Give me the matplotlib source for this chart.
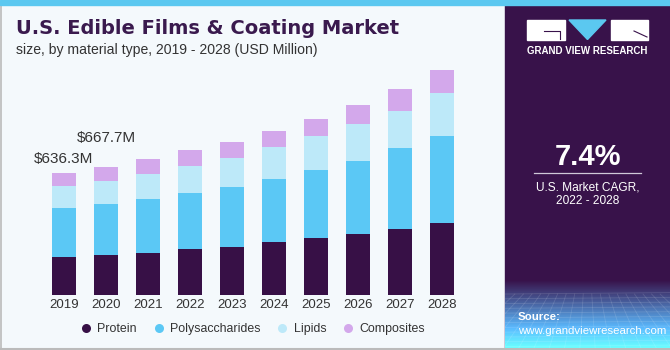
import numpy as np
import matplotlib.pyplot as plt
from matplotlib.patches import Rectangle, Polygon
from matplotlib.lines import Line2D

# data (USD Million)
years = ["2019", "2020", "2021", "2022", "2023", "2024", "2025", "2026", "2027", "2028"]
protein = [197.7, 205.5, 219.5, 237.2, 250.7, 275.1, 295.8, 318.1, 342.5, 375.2]
polysaccharides = [254.9, 265.5, 281.8, 294.2, 311.4, 328.5, 352.9, 380.4, 420.4, 450.0]
lipids = [116.0, 122.7, 128.2, 138.6, 150.5, 164.5, 176.5, 192.0, 193.6, 224.7]
composites = [67.6, 74.0, 77.9, 83.0, 83.0, 84.6, 91.9, 95.0, 112.6, 121.4]
series_names = ["Protein", "Polysaccharides", "Lipids", "Composites"]
value_labels = {0: "$636.3M", 1: "$667.7M"}

colors = ["#371046", "#5bc8f5", "#bde9f9", "#d3a8eb"]
bg = "#f4f9fc"
panel = "#38124a"

plt.rcParams["font.family"] = ["Liberation Sans", "DejaVu Sans"]

W, H = 670, 350
fig = plt.figure(figsize=(6.7, 3.5), dpi=100)
fig.patch.set_facecolor(bg)


def fx(px):
    return px / W


def fy(py):
    return 1 - py / H


# axes placed so bars land at the right pixels
ax = fig.add_axes([fx(38.8), fy(295), fx(428.4), (295 - 60) / H])
ax.set_facecolor(bg)
x = np.arange(len(years))
bottom = np.zeros(len(years))
for vals, c in zip([protein, polysaccharides, lipids, composites], colors):
    ax.bar(x, vals, bottom=bottom, width=0.57, color=c, edgecolor="none")
    bottom += np.array(vals)
ax.set_xlim(-0.6, 9.6)
ax.set_ylim(0, 1222)
ax.set_xticks(x)
ax.set_xticklabels(years, fontsize=9.5, color="#333333")
ax.tick_params(axis="x", length=0, pad=3)
ax.set_yticks([])
for s in ax.spines.values():
    s.set_visible(False)

totals = bottom
ax.text(0, totals[0] + 70, value_labels[0], ha="center", va="center", fontsize=11, color="#333333")
ax.text(1, totals[1] + 150, value_labels[1], ha="center", va="center", fontsize=11, color="#333333")

# legend
handles = [Line2D([], [], marker="o", linestyle="none", markersize=6.5,
                  markerfacecolor=c, markeredgecolor="none") for c in colors]
fig.legend(handles, series_names, loc="center", bbox_to_anchor=(fx(253), fy(329)),
           ncol=4, frameon=False, fontsize=8.9, handlelength=0.8, handletextpad=0.5,
           columnspacing=1.4, labelcolor="#333333")

# top strip and borders
fig.patches.append(Rectangle((0, fy(5)), 1, 5 / H, transform=fig.transFigure,
                             color="#5bc8f0", zorder=5))
fig.add_artist(Line2D([fx(0.5), fx(0.5)], [0, fy(5)], color="#bbbbbb", lw=1.2))
fig.add_artist(Line2D([0, 1], [fy(349.3), fy(349.3)], color="#bbbbbb", lw=1.5, zorder=6))

# title
fig.text(fx(16), fy(28), "U.S. Edible Films & Coating Market", fontsize=14,
         fontweight="bold", color="#3a1a4e", va="center", family="DejaVu Sans")
fig.text(fx(16), fy(50), "size, by material type, 2019 - 2028 (USD Million)",
         fontsize=10.1, color="#333333", va="center")

# right panel
fig.patches.append(Rectangle((fx(505), 0), 1 - fx(505), fy(5), transform=fig.transFigure,
                             color=panel, zorder=1))
# bottom gradient with faint grid
grad_ax = fig.add_axes([fx(505), 0, 1 - fx(505), (350 - 280) / H], zorder=2)
t = np.linspace(0, 1, 100)[:, None]
c0 = np.array([0x38, 0x12, 0x4a]) / 255
c1 = np.array([0x4f, 0x80, 0xc0]) / 255
c2 = np.array([0x5c, 0xbf, 0xee]) / 255
img = np.where(t < 0.45, c0 + (c1 - c0) * (t / 0.45)[..., None],
               c1 + (c2 - c1) * ((t - 0.45) / 0.55)[..., None])
img = img[:, 0, :][:, None, :].repeat(2, axis=1)
grad_ax.imshow(img, aspect="auto", extent=[0, 1, 0, 1], origin="upper")
for yy in np.linspace(0.05, 0.8, 12):
    grad_ax.plot([0, 1], [yy, yy + 0.02], color="white", alpha=0.13, lw=0.6)
for xx in np.linspace(-0.3, 1.3, 18):
    grad_ax.plot([xx, 0.5 + (xx - 0.5) * 0.55], [0, 0.8], color="white", alpha=0.13, lw=0.6)
grad_ax.set_xlim(0, 1)
grad_ax.set_ylim(0, 1)
grad_ax.axis("off")

# logo
fig.patches.append(Rectangle((fx(527), fy(39.5)), fx(38), 19.5 / H, transform=fig.transFigure,
                             color="white", zorder=6))
fig.patches.append(Polygon([(fx(569), fy(20)), (fx(606), fy(20)), (fx(587.5), fy(39.5))],
                           closed=True, transform=fig.transFigure, color="#5bc8f0", zorder=6))
fig.patches.append(Rectangle((fx(611), fy(39.5)), fx(36.5), 19.5 / H, transform=fig.transFigure,
                             color="white", zorder=6))
fig.add_artist(Line2D([fx(544), fx(560), fx(560)], [fy(31), fy(31), fy(39)], color=panel, lw=0.8, zorder=7))
fig.add_artist(Line2D([fx(634), fx(647)], [fy(31), fy(37)], color=panel, lw=0.8, zorder=7))
fig.text(fx(587.5), fy(51), "GRAND VIEW RESEARCH", fontsize=7, fontweight="bold",
         color="white", ha="center", va="center")

fig.text(fx(587.5), fy(157), "7.4%", fontsize=21, fontweight="bold", color="white",
         ha="center", va="center")
fig.add_artist(Line2D([fx(534), fx(640.5)], [fy(173.3), fy(173.3)], color="#cfc8d8", lw=0.9))
fig.text(fx(587.5), fy(187), "U.S. Market CAGR,", fontsize=8.6, color="white",
         ha="center", va="center")
fig.text(fx(587.5), fy(201), "2022 - 2028", fontsize=8.6, color="white",
         ha="center", va="center")
fig.text(fx(518), fy(316.5), "Source:", fontsize=8.2, fontweight="bold", color="white",
         va="center", zorder=8)
fig.text(fx(518), fy(330.5), "www.grandviewresearch.com", fontsize=8.2, color="white",
         va="center", zorder=8)

fig.savefig("out.png", dpi=100, facecolor=bg)
